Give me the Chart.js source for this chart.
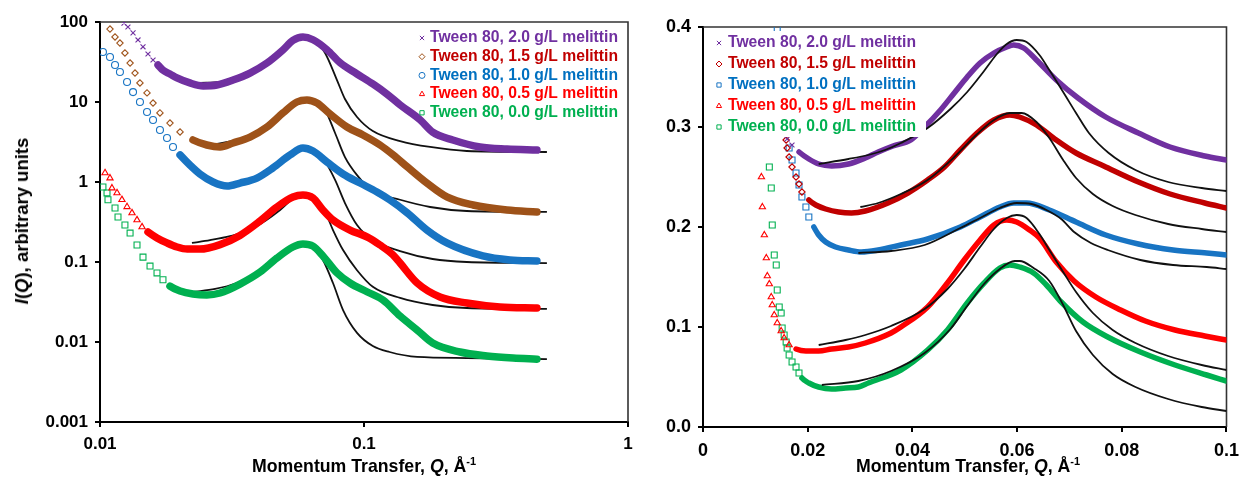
<!DOCTYPE html>
<html>
<head>
<meta charset="utf-8">
<script src="https://cdn.jsdelivr.net/npm/chart.js@4/dist/chart.umd.min.js"></script>
<style>
  body { margin: 0; width: 1247px; height: 482px; position: relative; overflow: hidden; background: #fff;
         font-family: "Liberation Sans", Arial, sans-serif; }
  canvas { position: absolute; top: 0; }
  #logChart { left: 0; }
  #linChart { left: 640px; }
  .axisTitle { position: absolute; font-weight: bold; font-size: 17.7px; color: #000; white-space: nowrap;
               transform: translate(-50%, -50%); }
  .axisTitle sup { font-size: 11px; line-height: 0; vertical-align: 7px; }
  #yTitle { font-size: 18.5px; transform: translate(-50%, -50%) rotate(-90deg); }
</style>
</head>
<body>
<canvas id="logChart" width="640" height="482"></canvas>
<canvas id="linChart" width="607" height="482"></canvas>
<div class="axisTitle" style="left:364px; top:466px">Momentum Transfer, <i>Q</i>, Å<sup>-1</sup></div>
<div class="axisTitle" style="left:968px; top:466px">Momentum Transfer, <i>Q</i>, Å<sup>-1</sup></div>
<div class="axisTitle" id="yTitle" style="left:22px; top:221px"><i>I</i>(<i>Q</i>), arbitrary units</div>
<script>
// series, highest melittin concentration first
const seriesLabels = [
  'Tween 80, 2.0 g/L melittin',
  'Tween 80, 1.5 g/L melittin',
  'Tween 80, 1.0 g/L melittin',
  'Tween 80, 0.5 g/L melittin',
  'Tween 80, 0.0 g/L melittin'
];

// axis ticks
const logXTicks = [0.01, 0.1, 1];
const logXTickLabels = ['0.01', '0.1', '1'];
const logYTicks = [0.001, 0.01, 0.1, 1, 10, 100];
const logYTickLabels = ['0.001', '0.01', '0.1', '1', '10', '100'];
const linXTicks = [0, 0.02, 0.04, 0.06, 0.08, 0.1];
const linXTickLabels = ['0', '0.02', '0.04', '0.06', '0.08', '0.1'];
const linYTicks = [0, 0.1, 0.2, 0.3, 0.4];
const linYTickLabels = ['0.0', '0.1', '0.2', '0.3', '0.4'];

// log-log panel: measured [Q, I] (curves offset for clarity)
const logData20 = [[0.01233, 97], [0.01276, 86.6], [0.01334, 73], [0.01393, 59.6], [0.01455, 49], [0.0152, 39.8],
  [0.01588, 33.5], [0.01659, 29], [0.01732, 25], [0.01841, 22.4], [0.01957, 20],
  [0.0219, 17.3], [0.0246, 15.9], [0.0277, 16.3], [0.0319, 18.8], [0.037, 23], [0.0429, 30.7], [0.0493, 44.7],
  [0.0538, 59], [0.0587, 65], [0.0641, 60], [0.0724, 45], [0.0811, 31], [0.0941, 22.4], [0.108, 16.8],
  [0.122, 12.6], [0.137, 9.2], [0.163, 6.0], [0.182, 4.2], [0.217, 3.35], [0.275, 2.74], [0.348, 2.58], [0.452, 2.51]];
const logData15 = [[0.01091, 81.7], [0.0114, 65], [0.0119, 54.6], [0.01243, 41], [0.013, 30.7], [0.01357, 23],
  [0.01417, 17.3], [0.01507, 13], [0.01588, 9.7], [0.01687, 7.3], [0.01841, 5.46], [0.0201, 4.22], [0.0225, 3.35],
  [0.0254, 2.9], [0.0285, 2.74], [0.0319, 3.07], [0.037, 3.65], [0.0429, 4.87], [0.0493, 7.29], [0.0557, 10],
  [0.0608, 10.6], [0.0664, 9.7], [0.0743, 7.1], [0.0862, 4.87], [0.0991, 3.87], [0.115, 2.9], [0.129, 2.18],
  [0.146, 1.54], [0.173, 0.97], [0.206, 0.65], [0.259, 0.516], [0.348, 0.447], [0.452, 0.422]];
const logData10 = [[0.01026, 42.2], [0.01091, 36.5], [0.0114, 29], [0.0119, 23.7], [0.01266, 17.8], [0.01334, 13.3],
  [0.01417, 10], [0.01507, 7.5], [0.01588, 5.96], [0.01687, 4.47], [0.01794, 3.55], [0.0189, 2.74], [0.0201, 2.18],
  [0.0219, 1.63], [0.0239, 1.26], [0.0268, 1.0], [0.0303, 0.89], [0.0339, 0.97], [0.0393, 1.12], [0.0452, 1.5],
  [0.0525, 2.18], [0.0587, 2.66], [0.0641, 2.44], [0.0724, 1.78], [0.0833, 1.26], [0.0966, 0.97], [0.112, 0.75],
  [0.125, 0.6], [0.146, 0.41], [0.173, 0.251], [0.206, 0.173], [0.282, 0.119], [0.357, 0.106], [0.452, 0.103]];
const logData05 = [[0.01045, 1.3], [0.01091, 1.12], [0.0111, 0.84], [0.0116, 0.73], [0.01211, 0.6], [0.01266, 0.49],
  [0.01322, 0.41], [0.01381, 0.335], [0.01443, 0.274], [0.0152, 0.237], [0.01644, 0.2], [0.01794, 0.173],
  [0.01957, 0.154], [0.0214, 0.145], [0.0239, 0.145], [0.0285, 0.165], [0.0339, 0.215], [0.0404, 0.326],
  [0.0468, 0.487], [0.0538, 0.649], [0.0587, 0.688], [0.0641, 0.631], [0.0699, 0.447], [0.0763, 0.335],
  [0.0885, 0.251], [0.103, 0.205], [0.115, 0.163], [0.129, 0.122], [0.137, 0.097], [0.159, 0.0546],
  [0.194, 0.0365], [0.245, 0.0307], [0.327, 0.0274], [0.452, 0.0266]];
const logData00 = [[0.01026, 0.866], [0.01063, 0.73], [0.01072, 0.6], [0.0114, 0.473], [0.0117, 0.365],
  [0.01243, 0.29], [0.013, 0.23], [0.01381, 0.163], [0.01455, 0.115], [0.01547, 0.089], [0.01644, 0.073],
  [0.01732, 0.06], [0.01841, 0.05], [0.0201, 0.0434], [0.0225, 0.0398], [0.0254, 0.0387], [0.0285, 0.041],
  [0.0339, 0.053], [0.0404, 0.075], [0.0468, 0.112], [0.0538, 0.154], [0.0587, 0.168], [0.0641, 0.158],
  [0.0699, 0.119], [0.079, 0.073], [0.0885, 0.0546], [0.103, 0.0422], [0.118, 0.0335], [0.137, 0.0211],
  [0.159, 0.0141], [0.182, 0.0097], [0.231, 0.0075], [0.292, 0.0067], [0.367, 0.0063], [0.452, 0.0061]];

// log-log panel: model fits
const logFit20 = [[0.0239, 17.3], [0.0285, 17.8], [0.0339, 20.5], [0.0404, 28.2], [0.0481, 44.7], [0.0538, 59.6],
  [0.0587, 64.9], [0.0641, 61.3], [0.0712, 41], [0.079, 18.8], [0.0847, 10.9], [0.0941, 6.5], [0.108, 4.34],
  [0.137, 3.25], [0.178, 2.74], [0.245, 2.44], [0.493, 2.37]];
const logFit15 = [[0.0261, 2.9], [0.0339, 3.45], [0.0404, 4.47], [0.0481, 7.29], [0.0557, 10], [0.0608, 10.6],
  [0.0664, 9.72], [0.0712, 7.94], [0.0777, 4.1], [0.0847, 2.05], [0.0941, 1.22], [0.108, 0.77], [0.137, 0.6],
  [0.178, 0.487], [0.245, 0.434], [0.493, 0.422]];
const logFit10 = [[0.027, 1.0], [0.0303, 0.89], [0.0339, 0.97], [0.0393, 1.12], [0.0452, 1.5], [0.0525, 2.18],
  [0.0587, 2.66], [0.0641, 2.44], [0.0712, 1.8], [0.0777, 1.06], [0.0847, 0.546], [0.0941, 0.29], [0.108, 0.188],
  [0.137, 0.137], [0.182, 0.109], [0.245, 0.1], [0.493, 0.097]];
const logFit05 = [[0.0223, 0.173], [0.0261, 0.188], [0.0311, 0.211], [0.037, 0.251], [0.0422, 0.326],
  [0.0481, 0.447], [0.0538, 0.613], [0.0587, 0.688], [0.0641, 0.631], [0.0712, 0.422], [0.0763, 0.251],
  [0.0833, 0.141], [0.0941, 0.079], [0.108, 0.049], [0.137, 0.0355], [0.182, 0.029], [0.245, 0.0266], [0.493, 0.0259]];
const logFit00 = [[0.0225, 0.0422], [0.0273, 0.046], [0.033, 0.0546], [0.0404, 0.075], [0.0468, 0.112],
  [0.0538, 0.154], [0.0587, 0.168], [0.0641, 0.154], [0.0699, 0.106], [0.0763, 0.0546], [0.0833, 0.0251],
  [0.0941, 0.013], [0.108, 0.0089], [0.125, 0.0075], [0.159, 0.0065], [0.245, 0.0063], [0.493, 0.0061]];

// linear panel: measured [Q, I]
const linData20 = [[0.01607, 0.288], [0.017, 0.282], [0.01834, 0.275], [0.02022, 0.268], [0.0221, 0.263],
  [0.02457, 0.261], [0.02779, 0.263], [0.031, 0.269], [0.03346, 0.275], [0.03629, 0.281], [0.0397, 0.287],
  [0.04234, 0.3], [0.04537, 0.317], [0.048, 0.334], [0.05047, 0.35], [0.05293, 0.364], [0.05557, 0.374],
  [0.05803, 0.38], [0.05936, 0.382], [0.06125, 0.379], [0.0637, 0.367], [0.06749, 0.347], [0.07164, 0.329],
  [0.07694, 0.31], [0.08318, 0.294], [0.08923, 0.28], [0.09584, 0.271], [0.1, 0.267]];
const linData15 = [[0.01588, 0.287], [0.01607, 0.279], [0.01645, 0.27], [0.01701, 0.26], [0.01777, 0.25],
  [0.01834, 0.243], [0.0189, 0.235], [0.02022, 0.227], [0.02155, 0.222], [0.02344, 0.218], [0.0259, 0.215],
  [0.02836, 0.214], [0.031, 0.216], [0.03535, 0.224], [0.03913, 0.234], [0.04291, 0.247], [0.04612, 0.26],
  [0.04915, 0.277], [0.05236, 0.294], [0.05557, 0.307], [0.0586, 0.312], [0.06049, 0.31], [0.0637, 0.302],
  [0.06749, 0.287], [0.07126, 0.274], [0.07656, 0.261], [0.08318, 0.245], [0.08923, 0.233], [0.09584, 0.224], [0.1, 0.219]];
const linData10 = [[0.01418, 0.398], [0.01645, 0.279], [0.01701, 0.267], [0.01777, 0.254], [0.01834, 0.242],
  [0.0189, 0.23], [0.01966, 0.22], [0.02022, 0.21], [0.02117, 0.2], [0.0221, 0.192], [0.02344, 0.185],
  [0.02533, 0.18], [0.02779, 0.177], [0.03025, 0.175], [0.03346, 0.177], [0.0378, 0.182], [0.04291, 0.188],
  [0.04915, 0.2], [0.05293, 0.21], [0.05671, 0.22], [0.05936, 0.224], [0.06181, 0.224], [0.06616, 0.217],
  [0.07126, 0.205], [0.07694, 0.192], [0.08318, 0.183], [0.08979, 0.177], [0.09622, 0.174], [0.1, 0.172]];
const linData05 = [[0.01116, 0.25], [0.01134, 0.22], [0.01172, 0.192], [0.0121, 0.169], [0.01229, 0.151],
  [0.01267, 0.143], [0.01304, 0.13], [0.01323, 0.122], [0.01361, 0.112], [0.01418, 0.104], [0.01493, 0.096],
  [0.0155, 0.089], [0.01645, 0.082], [0.01777, 0.078], [0.01966, 0.076], [0.0221, 0.076], [0.02457, 0.078],
  [0.02779, 0.08], [0.031, 0.084], [0.03592, 0.094], [0.0378, 0.1], [0.04291, 0.12], [0.04669, 0.144],
  [0.0499, 0.167], [0.05293, 0.187], [0.05557, 0.202], [0.05803, 0.207], [0.05992, 0.205], [0.06238, 0.197],
  [0.06427, 0.189], [0.06749, 0.165], [0.07089, 0.146], [0.07505, 0.13], [0.07978, 0.117], [0.0845, 0.106],
  [0.09017, 0.097], [0.09584, 0.091], [0.1, 0.087]];
const linData00 = [[0.01267, 0.26], [0.01304, 0.239], [0.01323, 0.202], [0.01361, 0.172], [0.01399, 0.162],
  [0.01418, 0.137], [0.01456, 0.12], [0.01493, 0.114], [0.01512, 0.099], [0.0155, 0.092], [0.01588, 0.085],
  [0.01607, 0.079], [0.01645, 0.072], [0.01701, 0.065], [0.01777, 0.06], [0.01834, 0.054], [0.0189, 0.049],
  [0.02022, 0.044], [0.0221, 0.04], [0.02457, 0.038], [0.02722, 0.039], [0.02968, 0.04], [0.03157, 0.044],
  [0.0378, 0.057], [0.04291, 0.077], [0.04669, 0.097], [0.05047, 0.124], [0.05369, 0.144], [0.05671, 0.159],
  [0.0586, 0.162], [0.06049, 0.16], [0.06314, 0.154], [0.0656, 0.142], [0.06843, 0.125], [0.07259, 0.105],
  [0.07732, 0.09], [0.08356, 0.075], [0.09017, 0.062], [0.09622, 0.052], [0.1, 0.046]];

// linear panel: model fits
const linFit20 = [[0.0221, 0.263], [0.02779, 0.268], [0.03157, 0.272], [0.03478, 0.277], [0.0378, 0.284],
  [0.04291, 0.299], [0.04726, 0.318], [0.05047, 0.335], [0.05369, 0.356], [0.05614, 0.373], [0.05803, 0.383],
  [0.05992, 0.387], [0.06181, 0.385], [0.06427, 0.372], [0.06616, 0.357], [0.0688, 0.335], [0.07126, 0.314],
  [0.07372, 0.294], [0.0775, 0.274], [0.08261, 0.257], [0.08885, 0.245], [0.09527, 0.239], [0.1, 0.236]];
const linFit15 = [[0.03006, 0.22], [0.03346, 0.224], [0.0378, 0.233], [0.04291, 0.247], [0.04802, 0.27],
  [0.0518, 0.29], [0.05557, 0.307], [0.0586, 0.314], [0.06087, 0.314], [0.0637, 0.305], [0.06616, 0.289],
  [0.0688, 0.267], [0.07126, 0.249], [0.07448, 0.233], [0.07826, 0.221], [0.08261, 0.212], [0.08885, 0.203],
  [0.09527, 0.198], [0.1, 0.195]];
const linFit10 = [[0.02968, 0.174], [0.03592, 0.176], [0.04234, 0.182], [0.04915, 0.199], [0.05293, 0.209],
  [0.05671, 0.219], [0.05992, 0.224], [0.06276, 0.223], [0.0656, 0.217], [0.06843, 0.208], [0.07089, 0.195],
  [0.0741, 0.184], [0.07732, 0.177], [0.08355, 0.167], [0.08979, 0.162], [0.09622, 0.16], [0.1, 0.158]];
const linFit05 = [[0.0221, 0.082], [0.02722, 0.087], [0.031, 0.092], [0.03592, 0.101], [0.04234, 0.118],
  [0.04669, 0.138], [0.0499, 0.158], [0.05293, 0.18], [0.05557, 0.198], [0.05803, 0.209], [0.05992, 0.212],
  [0.06181, 0.209], [0.06427, 0.193], [0.06616, 0.177], [0.0688, 0.155], [0.07126, 0.135], [0.07448, 0.114],
  [0.07826, 0.097], [0.08261, 0.084], [0.08885, 0.071], [0.09527, 0.062], [0.1, 0.057]];
const linFit00 = [[0.0227, 0.042], [0.02968, 0.046], [0.03592, 0.056], [0.04234, 0.074], [0.04726, 0.098],
  [0.05047, 0.121], [0.05369, 0.143], [0.05671, 0.158], [0.05953, 0.166], [0.06049, 0.166], [0.06314, 0.159],
  [0.06616, 0.146], [0.0688, 0.122], [0.07126, 0.096], [0.07448, 0.072], [0.07826, 0.053], [0.08261, 0.04],
  [0.08885, 0.028], [0.09527, 0.02], [0.1, 0.016]];

const FONT = '"Liberation Sans", Arial, sans-serif';
Chart.defaults.font.family = FONT;

const textColors = ['#7030A0', '#C00000', '#0070C0', '#FF0000', '#00B050'];
const logColors = ['#7030A0', '#9E5219', '#1874C3', '#FF0000', '#00B050'];
const linColors = ['#7030A0', '#C00000', '#1874C3', '#FF0000', '#00B050'];
const logStyles = ['crossRot', 'rectRot', 'circle', 'triangle', 'rect'];
const linStyles = ['crossRot', 'rectRot', 'rect', 'triangle', 'rect'];
const markerSize = { crossRot: 3.5, rectRot: 3.2, circle: 3.5, triangle: 3.6, rect: 4.2 };
// below these Q the points are sparse enough to show as separate markers
const logBandFrom = [0.0165, 0.021, 0.0195, 0.015, 0.0175];
const linBandFrom = [0.018, 0.02, 0.021, 0.0165, 0.0185];

const xy = pts => pts.map(p => ({ x: p[0], y: p[1] }));

function measured(pts, color, style, bandFrom, band) {
  const r = markerSize[style];
  return {
    data: xy(pts),
    borderColor: color,
    borderWidth: band,
    borderCapStyle: 'round',
    borderJoinStyle: 'round',
    segment: { borderColor: c => (c.p0.parsed.x >= bandFrom ? color : 'rgba(0,0,0,0)') },
    cubicInterpolationMode: 'monotone',
    pointStyle: style,
    pointRadius: c => (c.raw && c.raw.x > bandFrom ? 0 : r),
    pointBorderColor: color,
    pointBackgroundColor: 'rgba(0,0,0,0)',
    pointBorderWidth: 1.1
  };
}

function fitted(pts) {
  return {
    data: xy(pts),
    borderColor: '#111',
    borderWidth: 1.8,
    pointRadius: 0,
    cubicInterpolationMode: 'monotone'
  };
}

// top and right edges of the plot box
const frame = {
  id: 'frame',
  beforeDatasetsDraw(chart) {
    const { ctx, chartArea: a } = chart;
    ctx.save();
    ctx.strokeStyle = '#333';
    ctx.lineWidth = 1.6;
    ctx.beginPath();
    ctx.moveTo(a.left, a.top);
    ctx.lineTo(a.right, a.top);
    ctx.lineTo(a.right, a.bottom);
    ctx.stroke();
    ctx.restore();
  }
};

function keyBox(cfg) {
  return {
    id: 'keyBox',
    afterDatasetsDraw(chart) {
      const ctx = chart.ctx;
      ctx.save();
      if (cfg.box) {
        ctx.fillStyle = '#fff';
        ctx.fillRect(cfg.box[0], cfg.box[1], cfg.box[2], cfg.box[3]);
      }
      ctx.font = 'bold 15.7px ' + FONT;
      ctx.textBaseline = 'middle';
      seriesLabels.forEach((label, i) => {
        const y = cfg.y + i * cfg.dy;
        ctx.fillStyle = 'rgba(0,0,0,0)';
        ctx.strokeStyle = cfg.colors[i];
        ctx.lineWidth = 1;
        Chart.helpers.drawPoint(ctx, { pointStyle: cfg.styles[i], radius: 3, rotation: 0, borderWidth: 1 }, cfg.markerX, y);
        ctx.fillStyle = textColors[i];
        ctx.fillText(label, cfg.textX, y);
      });
      ctx.restore();
    }
  };
}

function axis(type, min, max, ticks, labels, size, pad, fit) {
  return {
    type: type, min: min, max: max,
    afterBuildTicks: s => { s.ticks = ticks.map(v => ({ value: v })); },
    afterFit: fit,
    border: { display: true, color: '#000', width: 2 },
    grid: { drawOnChartArea: false, drawTicks: true, tickLength: 5, color: '#000', lineWidth: 2 },
    ticks: { autoSkip: false, maxRotation: 0, padding: pad, color: '#000',
             font: { size: size, weight: 'bold', family: FONT },
             callback: (v, i) => labels[i] }
  };
}

const common = {
  responsive: false,
  animation: false,
  events: [],
  devicePixelRatio: 1,
  plugins: { legend: { display: false }, tooltip: { enabled: false } }
};

const logMeasured = [logData20, logData15, logData10, logData05, logData00];
const logFits = [logFit20, logFit15, logFit10, logFit05, logFit00];
const linMeasured = [linData20, linData15, linData10, linData05, linData00];
const linFits = [linFit20, linFit15, linFit10, linFit05, linFit00];

// log-log panel: measured bands drawn over the fits
new Chart(document.getElementById('logChart'), {
  type: 'line',
  data: {
    datasets: logMeasured.map((d, i) => measured(d, logColors[i], logStyles[i], logBandFrom[i], 7.5))
      .concat(logFits.map(fitted))
  },
  options: Object.assign({}, common, {
    layout: { padding: { left: 0, right: 12, top: 22, bottom: 0 } },
    scales: {
      x: axis('logarithmic', 0.01, 1, logXTicks, logXTickLabels, 17, 7, s => { s.height = 60; }),
      y: axis('logarithmic', 0.001, 100, logYTicks, logYTickLabels, 17, 7, s => { s.width = 100; })
    }
  }),
  plugins: [frame, keyBox({ y: 38, dy: 18.7, markerX: 422, textX: 430, colors: logColors, styles: logStyles })]
});

// linear panel: fits drawn over the measured bands
new Chart(document.getElementById('linChart'), {
  type: 'line',
  data: {
    datasets: linFits.map(fitted)
      .concat(linMeasured.map((d, i) => measured(d, linColors[i], linStyles[i], linBandFrom[i], 5.5)))
  },
  options: Object.assign({}, common, {
    layout: { padding: { left: 0, right: 15, top: 27, bottom: 0 } },
    scales: {
      x: axis('linear', 0, 0.1, linXTicks, linXTickLabels, 18, 8, s => { s.height = 55; }),
      y: axis('linear', 0, 0.4, linYTicks, linYTickLabels, 18, 7, s => { s.width = 63; })
    }
  }),
  plugins: [frame, keyBox({ box: [65, 31, 221, 106], y: 43, dy: 21, markerX: 79, textX: 88, colors: linColors, styles: linStyles })]
});
</script>
</body>
</html>
